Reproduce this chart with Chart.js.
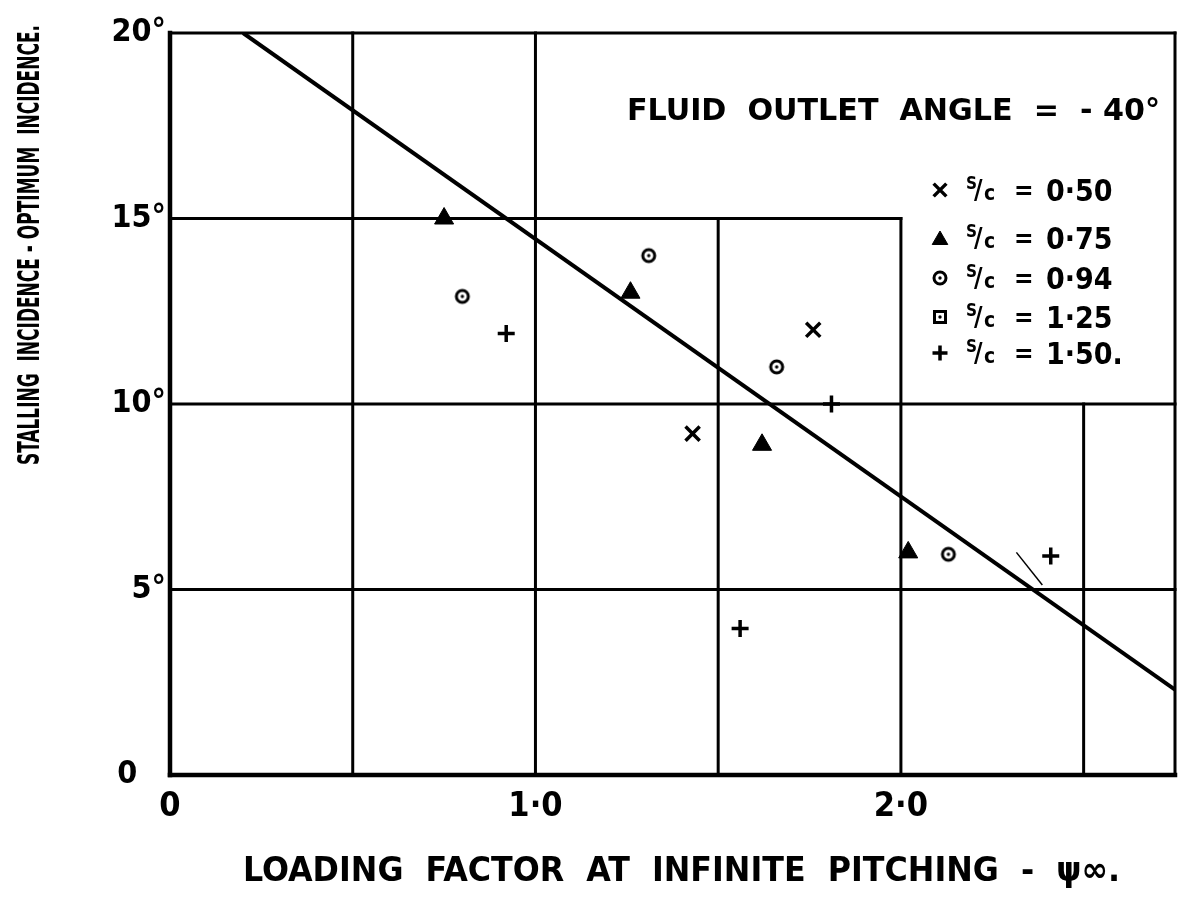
<!DOCTYPE html>
<html>
<head>
<meta charset="utf-8">
<script src="https://cdn.jsdelivr.net/npm/chart.js@4.4.1/dist/chart.umd.min.js"></script>
<style>
  body { margin: 0; background: #fff; }
  canvas { display: block; }
</style>
</head>
<body>
<canvas id="ctx" width="1178" height="902"></canvas>
<script>
const FONT = '"DejaVu Sans Condensed", "Liberation Sans Narrow", "DejaVu Sans", sans-serif';

// loading factor (x) / stall - optimum incidence in degrees (y), per pitch/chord
const loadX050 = [1.43, 1.76];
const incY050 = [9.2, 12.0];
const loadX075 = [0.75, 1.26, 1.62, 2.02];
const incY075 = [15.0, 13.0, 8.9, 6.0];
const loadX094 = [0.80, 1.31, 1.66, 2.13];
const incY094 = [12.9, 14.0, 11.0, 5.95];
const loadX125 = [];
const incY125 = [];
const loadX150 = [0.92, 1.56, 1.81, 2.41];
const incY150 = [11.9, 3.95, 10.0, 5.9];

// mean line through the points
const meanX = [0.2, 2.75];
const meanY = [20, 2.3];
// small pencil tick near the line
const tickMarkX = [2.316, 2.387];
const tickMarkY = [6.0, 5.12];

const pitchChord = ['0·50', '0·75', '0·94', '1·25', '1·50.'];
const xTicks = [0, 1, 2];
const xTickText = ['0', '1·0', '2·0'];
const yTicks = [0, 5, 10, 15, 20];
const yTickText = ['0\u2003', '5°', '10°', '15°', '20°'];

const pts = (xs, ys) => xs.map((x, i) => ({ x: x, y: ys[i] }));

// ring (or box) with a dot in the middle
function dotted(square) {
  const c = document.createElement('canvas');
  c.width = c.height = 20;
  const g = c.getContext('2d');
  g.strokeStyle = '#000';
  g.fillStyle = '#000';
  g.lineWidth = 3;
  if (square) {
    g.strokeRect(4.5, 4.5, 11, 11);
  } else {
    g.beginPath(); g.arc(10, 10, 6, 0, Math.PI * 2); g.stroke();
  }
  g.beginPath(); g.arc(10, 10, 1.7, 0, Math.PI * 2); g.fill();
  return c;
}

const marker = (label, data, style, radius, width) => ({
  label: label,
  data: data,
  pointStyle: style,
  pointRadius: radius,
  borderWidth: width,
  borderColor: '#000',
  backgroundColor: '#000',
  showLine: false
});

const datasets = [
  marker(pitchChord[0], pts(loadX050, incY050), 'crossRot', 10, 3.5),
  marker(pitchChord[1], pts(loadX075, incY075), 'triangle', 11, 1),
  marker(pitchChord[2], pts(loadX094, incY094), dotted(false), 8, 0),
  marker(pitchChord[3], pts(loadX125, incY125), dotted(true), 8, 0),
  marker(pitchChord[4], pts(loadX150, incY150), 'cross', 8.5, 3.5),
  {
    label: 'mean', noKey: true, data: pts(meanX, meanY), showLine: true,
    borderColor: '#000', borderWidth: 4, pointRadius: 0
  },
  {
    label: 'tick', noKey: true, data: pts(tickMarkX, tickMarkY), showLine: true,
    borderColor: '#000', borderWidth: 1.5, pointRadius: 0
  }
];

// draw text stretched/squeezed to a given width
function fitText(ctx, text, x, y, width, angle) {
  const w = ctx.measureText(text).width;
  ctx.save();
  ctx.translate(x, y);
  if (angle) ctx.rotate(angle);
  ctx.scale(width / w, 1);
  ctx.textAlign = 'left';
  ctx.textBaseline = 'alphabetic';
  ctx.fillText(text, 0, 0);
  ctx.restore();
}

const paperGrid = {
  id: 'paperGrid',
  beforeDatasetsDraw(chart) {
    const { ctx, scales: { x, y } } = chart;
    const seg = (x0, y0, x1, y1, w) => {
      ctx.lineWidth = w;
      ctx.beginPath();
      ctx.moveTo(x.getPixelForValue(x0), y.getPixelForValue(y0));
      ctx.lineTo(x.getPixelForValue(x1), y.getPixelForValue(y1));
      ctx.stroke();
    };
    ctx.save();
    ctx.strokeStyle = '#000';
    ctx.lineCap = 'square';
    // vertical rules and the height each one reaches
    [[0.5, 20], [1, 20], [1.5, 15], [2, 15], [2.5, 10]].forEach(([v, top]) => seg(v, 0, v, top, 3));
    // horizontal rules and how far right each one runs
    [[5, 2.75], [10, 2.75], [15, 2]].forEach(([h, right]) => seg(0, h, right, h, 3));
    seg(0, 20, 2.75, 20, 3);
    seg(2.75, 0, 2.75, 20, 3);
    seg(0, 0, 0, 20, 4.5);
    seg(0, 0, 2.75, 0, 4.5);
    ctx.restore();
  }
};

const lettering = {
  id: 'lettering',
  afterDraw(chart) {
    const ctx = chart.ctx;
    ctx.save();
    ctx.fillStyle = '#000';

    ctx.font = 'bold 30px ' + FONT;
    fitText(ctx, 'FLUID  OUTLET  ANGLE  =  - 40°', 627, 120, 533);

    ctx.font = 'bold 34px ' + FONT;
    fitText(ctx, 'LOADING  FACTOR  AT  INFINITE  PITCHING  -  ψ∞.', 243, 881, 877);

    ctx.font = 'bold 31px ' + FONT;
    fitText(ctx, 'STALLING  INCIDENCE - OPTIMUM  INCIDENCE.', 39, 465, 440, -Math.PI / 2);

    // key: one row per pitch/chord series
    const rows = [190, 238, 278, 317, 353];
    let r = 0;
    chart.data.datasets.forEach(ds => {
      if (ds.noKey) return;
      const y = rows[r++];
      ctx.save();
      ctx.strokeStyle = '#000';
      ctx.fillStyle = '#000';
      ctx.lineWidth = ds.borderWidth;
      const size = ds.pointStyle === 'triangle' ? 9 : ds.pointStyle === 'crossRot' ? 9 : 7.5;
      const opts = { pointStyle: ds.pointStyle, radius: size, borderWidth: ds.borderWidth, rotation: 0 };
      Chart.helpers.drawPoint(ctx, opts, 940, ds.pointStyle === 'triangle' ? y + 2 : y);
      ctx.restore();

      ctx.textBaseline = 'alphabetic';
      ctx.textAlign = 'left';
      ctx.font = 'bold 17px ' + FONT;
      ctx.fillText('S', 966, y - 1);
      ctx.font = 'bold 26px ' + FONT;
      ctx.fillText('/', 974, y + 9);
      ctx.font = 'bold 21px ' + FONT;
      ctx.fillText('c', 984, y + 10);
      ctx.font = 'bold 26px ' + FONT;
      ctx.fillText('=', 1014, y + 9);
      ctx.font = 'bold 30px ' + FONT;
      ctx.fillText(ds.label, 1046, y + 11);
    });
    ctx.restore();
  }
};

new Chart(document.getElementById('ctx'), {
  type: 'scatter',
  data: { datasets: datasets },
  options: {
    responsive: false,
    animation: false,
    layout: { autoPadding: false, padding: { left: 0, right: 3, top: 33, bottom: 0 } },
    plugins: { legend: { display: false }, tooltip: { enabled: false } },
    scales: {
      x: {
        type: 'linear',
        min: 0,
        max: 2.75,
        grid: { display: false, drawTicks: false },
        border: { display: false },
        ticks: {
          stepSize: 1,
          includeBounds: false,
          autoSkip: false,
          maxRotation: 0,
          padding: 12,
          color: '#000',
          font: { family: FONT, size: 34, weight: 'bold' },
          callback: v => { const i = xTicks.indexOf(v); return i < 0 ? '' : xTickText[i]; }
        },
        afterFit: s => { s.height = 127; s.paddingLeft = 0; s.paddingRight = 0; }
      },
      y: {
        type: 'linear',
        min: 0,
        max: 20,
        grid: { display: false, drawTicks: false },
        border: { display: false },
        ticks: {
          stepSize: 5,
          padding: 4,
          color: '#000',
          font: { family: FONT, size: 32, weight: 'bold' },
          callback: v => { const i = yTicks.indexOf(v); return i < 0 ? '' : yTickText[i]; }
        },
        afterFit: s => { s.width = 170; s.paddingTop = 0; s.paddingBottom = 0; }
      }
    }
  },
  plugins: [paperGrid, lettering]
});
</script>
</body>
</html>
